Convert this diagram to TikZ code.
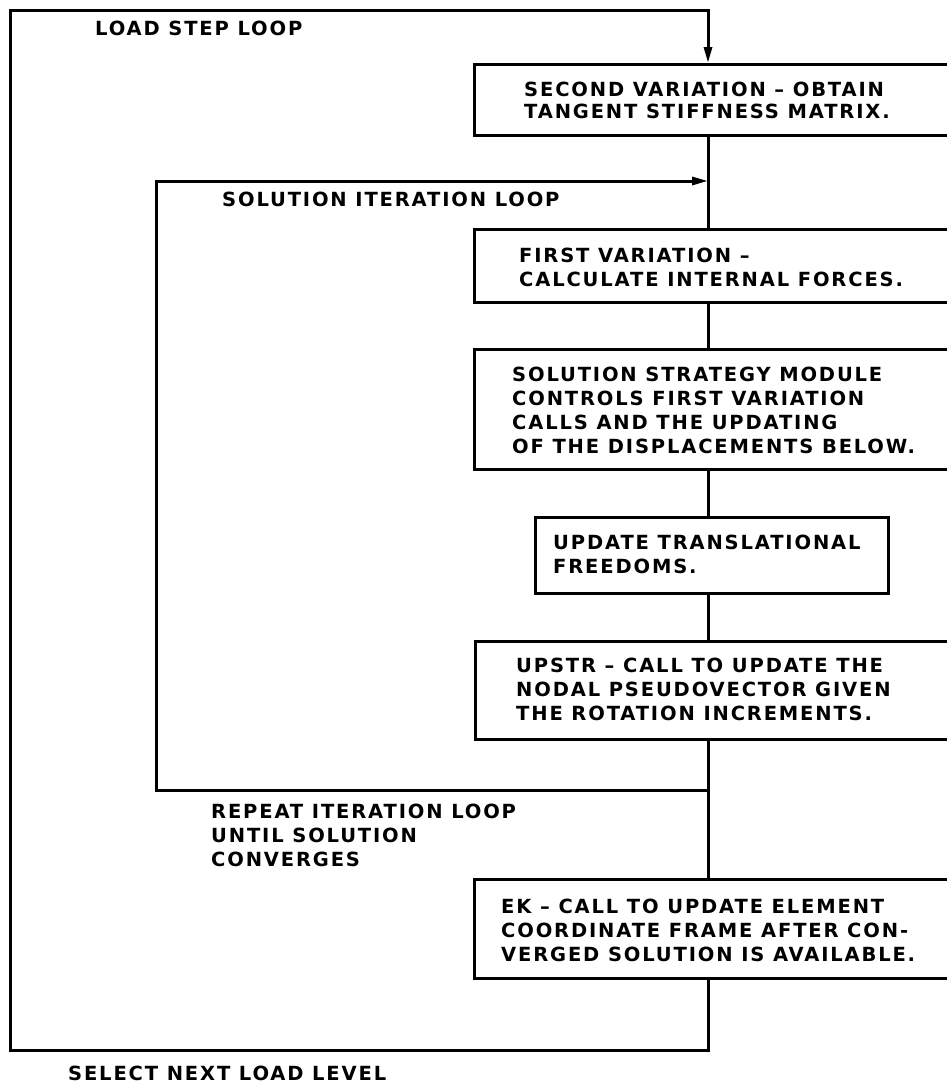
\documentclass[tikz,border=0pt]{standalone}
\usepackage{fontspec}
\setmainfont{DejaVu Sans}[LetterSpace=9.5]
\usetikzlibrary{arrows.meta}
\begin{document}
\begin{tikzpicture}[x=1pt,y=-1pt,
  box/.style={draw, line width=3pt, rectangle, inner sep=0pt, anchor=north west},
  txt/.style={inner sep=0pt, anchor=north west, align=left, font=\fontsize{19.5}{24}\selectfont\bfseries},
  flow/.style={draw, line width=3pt},
  arr/.style={flow, -{Triangle[length=16pt,width=8pt]}}]
\clip (0,0) rectangle (947,1084);
\fill[white] (0,0) rectangle (947,1084);
% spine and loop corners
\coordinate (sp) at (708,0);
\coordinate (otl) at (10,10);
\coordinate (obr) at (708,1050);
\coordinate (itl) at (156,181);
\coordinate (ibr) at (708,790);
% boxes
\node[box, minimum width=600pt, minimum height=71pt] (b1) at (473,63) {};
\node[box, minimum width=600pt, minimum height=73pt] (b2) at (473,228) {};
\node[box, minimum width=600pt, minimum height=120pt] (b3) at (473,348) {};
\node[box, minimum width=353pt, minimum height=76pt] (b4) at (534,516) {};
\node[box, minimum width=600pt, minimum height=98pt] (b5) at (474,640) {};
\node[box, minimum width=600pt, minimum height=99pt] (b6) at (473,878) {};
% box texts
\node[txt, font=\fontsize{19.5}{21.5}\selectfont\bfseries] (t1) at (524,82) {SECOND VARIATION – OBTAIN\\TANGENT STIFFNESS MATRIX.};
\node[txt] (t2) at (519,248) {FIRST VARIATION –\\CALCULATE INTERNAL FORCES.};
\node[txt] (t3) at (512,367) {SOLUTION STRATEGY MODULE\\CONTROLS FIRST VARIATION\\CALLS AND THE UPDATING\\OF THE DISPLACEMENTS BELOW.};
\node[txt] (t4) at (553,535) {UPDATE TRANSLATIONAL\\FREEDOMS.};
\node[txt] (t5) at (516,658) {UPSTR – CALL TO UPDATE THE\\NODAL PSEUDOVECTOR GIVEN\\THE ROTATION INCREMENTS.};
\node[txt] (t6) at (501,899) {EK – CALL TO UPDATE ELEMENT\\COORDINATE FRAME AFTER CON-\\VERGED SOLUTION IS AVAILABLE.};
% loop labels
\node[txt] (l1) at (95,21) {LOAD STEP LOOP};
\node[txt] (l2) at (222,192) {SOLUTION ITERATION LOOP};
\node[txt] (l3) at (211,804) {REPEAT ITERATION LOOP\\UNTIL SOLUTION\\CONVERGES};
\node[txt] (l4) at (68,1066) {SELECT NEXT LOAD LEVEL};
% spine connectors
\draw[flow] (b1.south -| sp) -- (b2.north -| sp);
\draw[flow] (b2.south -| sp) -- (b3.north -| sp);
\draw[flow] (b3.south -| sp) -- (b4.north -| sp);
\draw[flow] (b4.south -| sp) -- (b5.north -| sp);
\draw[flow] (b5.south -| sp) -- (b6.north -| sp);
% inner loop
\draw[arr, line join=miter] (ibr) -- (itl |- ibr) -- (itl) -- (sp |- itl);
% outer loop
\draw[arr, line join=miter] (b6.south -| sp) -- (obr) -- (otl |- obr) -- (otl) -- (sp |- otl) -- (b1.north -| sp);
\end{tikzpicture}
\end{document}
